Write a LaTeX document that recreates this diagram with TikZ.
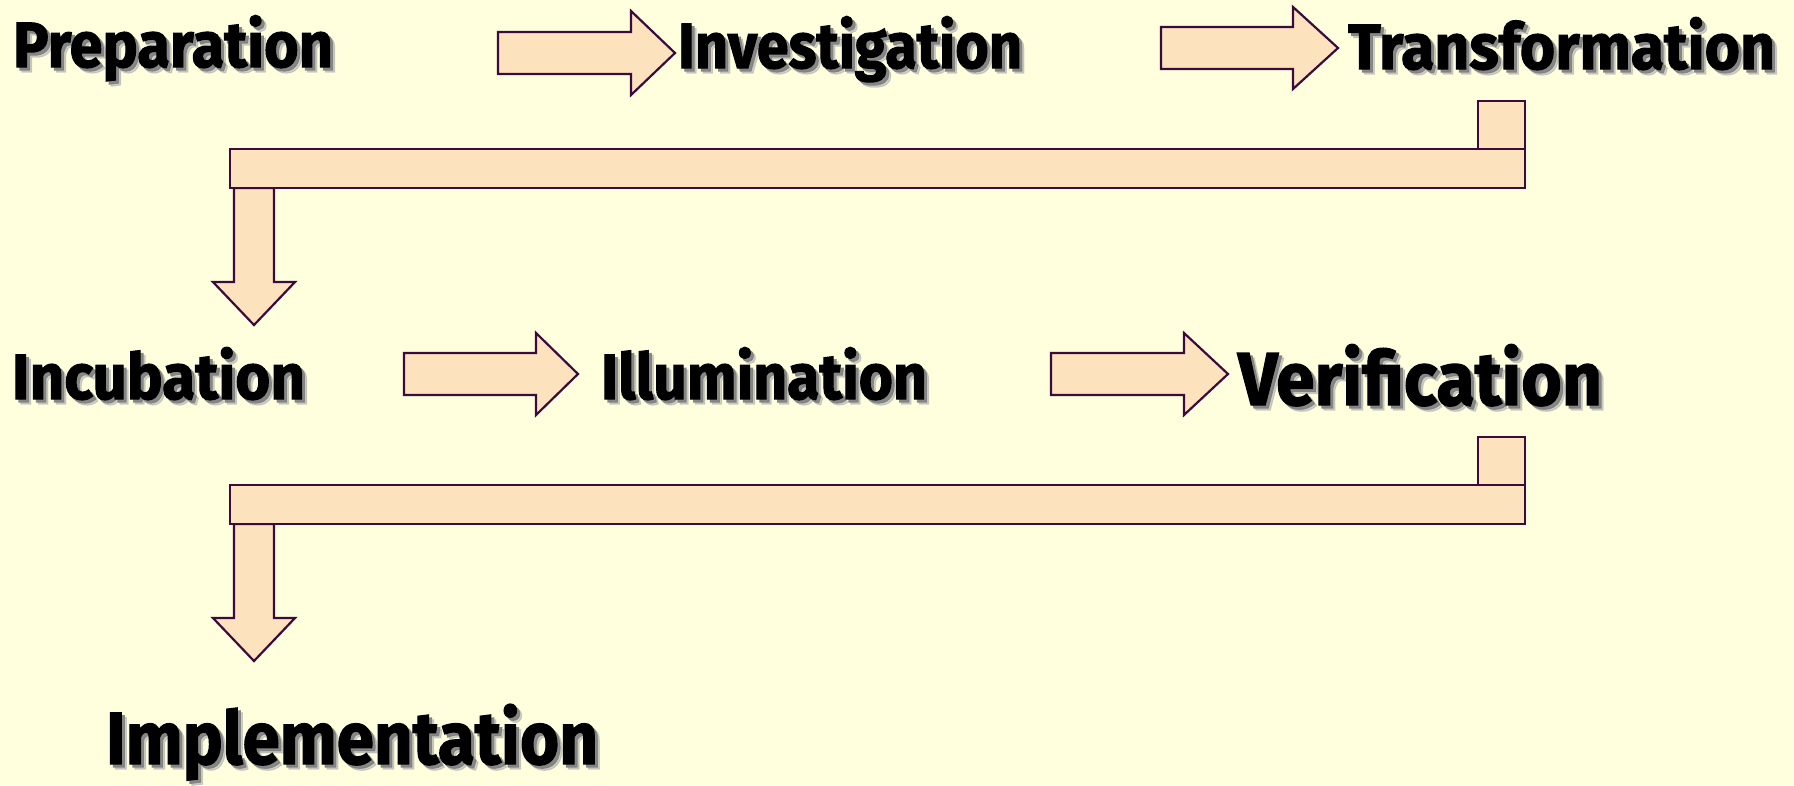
\documentclass[tikz,border=0pt]{standalone}
\usepackage{fontspec}
\usepackage{graphicx}
\newfontfamily\stagefont{Fira Sans}[BoldFeatures={FakeBold=1.6}]

\definecolor{bgyellow}{RGB}{255,255,222}
\definecolor{peach}{RGB}{252,227,190}
\definecolor{plum}{RGB}{60,10,60}

\tikzset{
  blockarrow/.style={fill=peach, draw=plum, line width=2.2pt, line join=miter},
  stagelbl/.style={anchor=base west, inner sep=0pt, outer sep=0pt},
}

% label text squeezed to a given width, keeping its natural height
\newcommand\stagetext[3]{%
  \resizebox{#1}{\height}{\fontsize{#2}{#2}\selectfont\stagefont\bfseries #3}}

% stage label with a soft drop shadow: name, x, baseline y, width, size, text
\newcommand\stage[6]{%
  \node[stagelbl, text=black!30, opacity=0.6] (#1-shadow2) at (#2+5,#3+5) {\stagetext{#4}{#5}{#6}};
  \node[stagelbl, text=black!50, opacity=0.9] (#1-shadow) at (#2+3,#3+3) {\stagetext{#4}{#5}{#6}};
  \node[stagelbl, text=black] (#1) at (#2,#3) {\stagetext{#4}{#5}{#6}};}

% right-pointing block arrow: shaft left, head base, tip, centre y, shaft half, head half
\newcommand\rightblock[6]{%
  \draw[blockarrow] (#1,#4-#5) -- (#2,#4-#5) -- (#2,#4-#6) -- (#3,#4)
    -- (#2,#4+#6) -- (#2,#4+#5) -- (#1,#4+#5) -- cycle;}

% elbow connector: square stub on the right, long bar, arrow down on the left
\newcommand\elbow[1]{%
  \draw[blockarrow] (1478,#1-48) rectangle (1525,#1);
  \draw[blockarrow] (234,#1+39) -- (234,#1+133) -- (213,#1+133) -- (254,#1+176)
    -- (295,#1+133) -- (274,#1+133) -- (274,#1+39) -- cycle;
  \draw[blockarrow] (230,#1) rectangle (1525,#1+39);}

\begin{document}
\begin{tikzpicture}[x=1pt, y=-1pt]
  \fill[bgyellow] (0,0) rectangle (1794,785);
  \useasboundingbox (0,0) rectangle (1794,785);

  % first row
  \stage{prep}{13}{67}{320pt}{64}{Preparation}
  \rightblock{498}{631}{675}{53}{21}{42}
  \stage{invest}{678}{68}{344pt}{64}{Investigation}
  \rightblock{1161}{1293}{1338}{48}{21}{41}
  \stage{transf}{1348}{69}{427pt}{64}{Transformation}

  \elbow{149}

  % second row
  \stage{incub}{12}{399}{293pt}{64}{Incubation}
  \rightblock{404}{536}{578}{374}{21}{41}
  \stage{illum}{601}{399}{326pt}{64}{Illumination}
  \rightblock{1051}{1184}{1228}{374}{21}{41}
  \stage{verif}{1238}{405}{364pt}{75}{Verification}

  \elbow{485}

  % last stage
  \stage{impl}{106}{764}{492pt}{74}{Implementation}
\end{tikzpicture}
\end{document}
